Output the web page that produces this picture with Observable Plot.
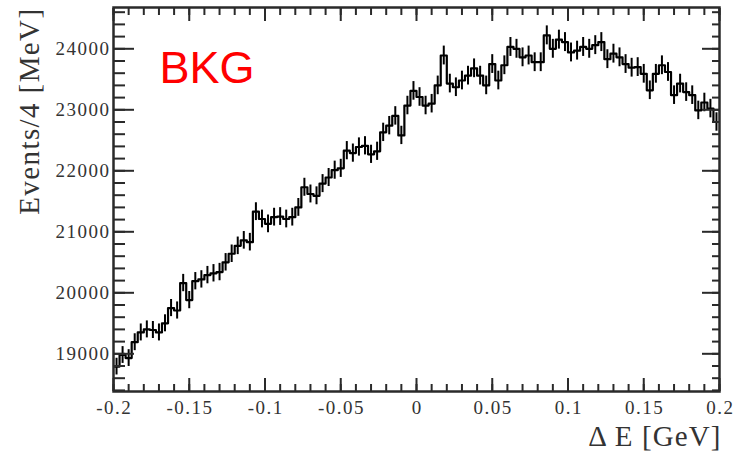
<!DOCTYPE html>
<html>
<head>
<meta charset="utf-8">
<script src="https://cdn.jsdelivr.net/npm/d3@7"></script>
<script src="https://cdn.jsdelivr.net/npm/@observablehq/plot@0.6"></script>
<style>
  html, body { margin: 0; padding: 0; background: #fff; }
</style>
</head>
<body>
<div id="chart"></div>
<script>
// ΔE spectrum of the background sample, 4 MeV bins from -0.2 to 0.2 GeV
const binLow = d3.range(100).map(i => -0.2 + 0.004 * i);
const binWidth = 0.004;
const counts = [
  18790, 18980, 18930, 19190, 19350, 19400, 19390, 19350, 19500, 19750,
  19710, 20160, 19880, 20190, 20220, 20290, 20320, 20340, 20500, 20640,
  20770, 20860, 20830, 21330, 21210, 21130, 21240, 21250, 21210, 21240,
  21400, 21730, 21620, 21590, 21790, 21890, 22010, 22040, 22330, 22290,
  22390, 22410, 22270, 22320, 22630, 22740, 22900, 22580, 23070, 23310,
  23210, 23070, 23100, 23400, 23890, 23430, 23370, 23480, 23560, 23680,
  23560, 23400, 23750, 23480, 23730, 24030, 24000, 23860, 23890, 23780,
  23780, 24220, 24000, 24150, 24110, 23940, 23970, 24030, 24000, 24060,
  24110, 23830, 23920, 23860, 23750, 23690, 23700, 23590, 23320, 23590,
  23730, 23620, 23240, 23430, 23290, 23240, 22990, 23120, 23020, 22800
];

// Axis ticks
const xMajor = [-0.2, -0.15, -0.1, -0.05, 0, 0.05, 0.1, 0.15, 0.2];
const xMinor = d3.range(-20, 21).map(i => i / 100);
const yMajor = [19000, 20000, 21000, 22000, 23000, 24000];
const yMinor = d3.range(18400, 24700, 200);

const xTitle = "\u0394 E [GeV]";
const yTitle = "Events/4 [MeV]";
const tag = "BKG";

// Per-bin table: step outline and Poisson error bars
const bins = counts.map((c, i) => ({
  x0: binLow[i],
  x1: binLow[i] + binWidth,
  center: binLow[i] + binWidth / 2,
  count: c,
  lo: c - Math.sqrt(c),
  hi: c + Math.sqrt(c)
}));
const steps = bins.flatMap(b => [{x: b.x0, y: b.count}, {x: b.x1, y: b.count}]);

const axisColor = "#2a2a2a";
const blank = () => "";

const chart = Plot.plot({
  width: 738,
  height: 457,
  marginLeft: 113,
  marginRight: 19,
  marginTop: 7,
  marginBottom: 66,
  style: {fontFamily: "'Liberation Serif', 'Times New Roman', serif", fontSize: "19px", color: "#333", background: "#fff"},
  x: {domain: [-0.2, 0.2]},
  y: {domain: [18382, 24677]},
  marks: [
    // histogram outline and error bars
    Plot.line(steps, {x: "x", y: "y", stroke: "black", strokeWidth: 2.2, clip: true}),
    Plot.ruleX(bins, {x: "center", y1: "lo", y2: "hi", stroke: "black", strokeWidth: 2, clip: true}),

    // inward tick marks on all four sides
    Plot.axisX(xMinor, {anchor: "bottom", tickSize: -7, tickFormat: blank, label: null, stroke: axisColor, strokeWidth: 2}),
    Plot.axisX(xMajor, {anchor: "bottom", tickSize: -13, tickFormat: blank, label: null, stroke: axisColor, strokeWidth: 2}),
    Plot.axisX(xMinor, {anchor: "top", tickSize: -7, tickFormat: blank, label: null, stroke: axisColor, strokeWidth: 2}),
    Plot.axisX(xMajor, {anchor: "top", tickSize: -13, tickFormat: blank, label: null, stroke: axisColor, strokeWidth: 2}),
    Plot.axisY(yMinor, {anchor: "left", tickSize: -12, tickFormat: blank, label: null, stroke: axisColor, strokeWidth: 2}),
    Plot.axisY(yMajor, {anchor: "left", tickSize: -21, tickFormat: blank, label: null, stroke: axisColor, strokeWidth: 2}),
    Plot.axisY(yMinor, {anchor: "right", tickSize: -8, tickFormat: blank, label: null, stroke: axisColor, strokeWidth: 2}),
    Plot.axisY(yMajor, {anchor: "right", tickSize: -18, tickFormat: blank, label: null, stroke: axisColor, strokeWidth: 2}),

    // tick labels
    Plot.axisX(xMajor, {anchor: "bottom", tickSize: 0, tickPadding: 9, dx: 0.75, tickFormat: d => String(d), label: null, fill: "#333"}),
    Plot.axisY(yMajor, {anchor: "left", tickSize: 0, tickPadding: 3, tickFormat: d => String(d), label: null, fill: "#333"}),

    Plot.frame({stroke: axisColor, strokeWidth: 2.5}),

    // axis titles
    Plot.text([xTitle], {frameAnchor: "bottom-right", textAnchor: "end", lineAnchor: "bottom", dx: 2, dy: 54, fontSize: 29, fill: "#333"}),
    Plot.text([yTitle], {frameAnchor: "top-left", rotate: -90, textAnchor: "end", lineAnchor: "bottom", dx: -75, dy: 0, fontSize: 29, fill: "#333"}),

    // sample tag
    Plot.text([tag], {frameAnchor: "top-left", textAnchor: "start", lineAnchor: "bottom", dx: 46, dy: 75, fontSize: 45, fontFamily: "'Liberation Sans', Arial, sans-serif", fill: "#ff0000"})
  ]
});

// Wider letter spacing for the serif labels
d3.select(chart).selectAll("text").each(function () {
  const t = this.textContent;
  if (t === tag) return;
  const spacing = t === yTitle ? 1.4 : t === xTitle ? 1.1 : 1.5;
  this.style.letterSpacing = spacing + "px";
});

document.getElementById("chart").appendChild(chart);
</script>
</body>
</html>
